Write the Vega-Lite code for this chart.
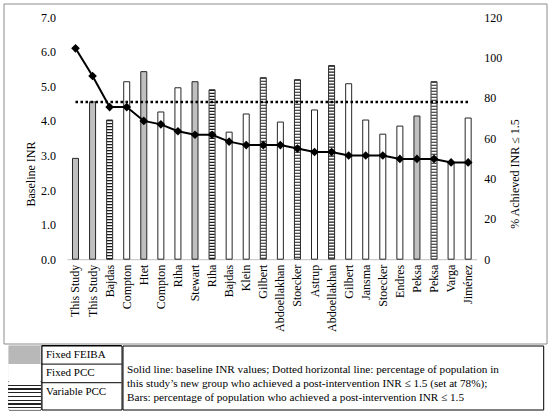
{
  "$schema": "https://vega.github.io/schema/vega-lite/v6.json",
  "background": "white",
  "padding": {"left": 2.5, "top": 2.5, "right": 3, "bottom": 3},
  "datasets": {
    "studies": [
      {"study": "This Study", "group": "Fixed FEIBA", "inr": 6.1, "pct": 50},
      {"study": " This Study", "group": "Fixed FEIBA", "inr": 5.3, "pct": 78},
      {"study": "Bajdas", "group": "Variable PCC", "inr": 4.4, "pct": 69},
      {"study": "Compton", "group": "Fixed PCC", "inr": 4.4, "pct": 88},
      {"study": "Htet", "group": "Fixed FEIBA", "inr": 4.0, "pct": 93},
      {"study": " Compton", "group": "Fixed PCC", "inr": 3.9, "pct": 73},
      {"study": "Riha", "group": "Fixed PCC", "inr": 3.7, "pct": 85},
      {"study": "Stewart", "group": "Fixed FEIBA", "inr": 3.6, "pct": 88},
      {"study": " Riha", "group": "Variable PCC", "inr": 3.6, "pct": 84},
      {"study": " Bajdas", "group": "Fixed PCC", "inr": 3.4, "pct": 63},
      {"study": "Klein", "group": "Fixed PCC", "inr": 3.3, "pct": 72},
      {"study": "Gilbert", "group": "Variable PCC", "inr": 3.3, "pct": 90},
      {"study": "Abdoellakhan", "group": "Fixed PCC", "inr": 3.3, "pct": 68},
      {"study": "Stoecker", "group": "Variable PCC", "inr": 3.2, "pct": 89},
      {"study": "Astrup", "group": "Fixed PCC", "inr": 3.1, "pct": 74},
      {"study": " Abdoellakhan", "group": "Variable PCC", "inr": 3.1, "pct": 96},
      {"study": " Gilbert", "group": "Fixed PCC", "inr": 3.0, "pct": 87},
      {"study": "Jansma", "group": "Fixed PCC", "inr": 3.0, "pct": 69},
      {"study": " Stoecker", "group": "Fixed PCC", "inr": 3.0, "pct": 62},
      {"study": "Endres", "group": "Fixed PCC", "inr": 2.9, "pct": 66},
      {"study": "Peksa", "group": "Fixed FEIBA", "inr": 2.9, "pct": 71},
      {"study": " Peksa", "group": "Variable PCC", "inr": 2.9, "pct": 88},
      {"study": "Varga", "group": "Fixed PCC", "inr": 2.8, "pct": 48},
      {"study": "Jiménez", "group": "Fixed PCC", "inr": 2.8, "pct": 70}
    ],
    "legend": [
      {"label": "Fixed FEIBA"},
      {"label": "Fixed PCC"},
      {"label": "Variable PCC"}
    ],
    "notes": [
      {"line": "Solid line: baseline INR values; Dotted horizontal line: percentage of population in"},
      {"line": "this study’s new group who achieved a post-intervention INR ≤ 1.5 (set at 78%);"},
      {"line": "Bars: percentage of population who achieved a post-intervention INR ≤ 1.5"}
    ]
  },
  "spacing": 0,
  "vconcat": [
    {
      "width": 543,
      "height": 340,
      "view": {"stroke": "#8c8c8c"},
      "data": {"name": "studies"},
      "encoding": {
        "x": {
          "field": "study",
          "type": "nominal",
          "sort": null,
          "scale": {"paddingInner": 0, "paddingOuter": 0, "range": [63.46, 473.2]},
          "axis": {"title": null, "labelAngle": -90, "labelExpr": "trim(datum.value)", "labelPadding": 5, "offset": -84.3, "domain": true, "domainColor": "#bfbfbf", "domainWidth": 1}
        }
      },
      "layer": [
        {
          "encoding": {
            "y": {
              "field": "pct",
              "type": "quantitative",
              "scale": {"domain": [-41.8, 126.79], "nice": false, "zero": false},
              "axis": {"orient": "right", "title": "% Achieved INR ≤ 1.5", "values": [0, 20, 40, 60, 80, 100, 120], "offset": -69.8, "labelPadding": 7, "titlePadding": 8, "titleAngle": -90, "titleBaseline": "top"}
            }
          },
          "layer": [
            {
              "mark": {"type": "bar", "width": 6, "strokeWidth": 0},
              "encoding": {
                "fill": {"condition": {"test": "datum.group === 'Fixed FEIBA'", "value": "#bfbfbf"}, "value": "white"}
              }
            },
            {
              "mark": {"type": "rule", "color": "#1a1a1a", "strokeWidth": 5.4, "strokeDash": [1.1, 1.9]},
              "encoding": {
                "y2": {"datum": 0},
                "strokeOpacity": {"condition": {"test": "datum.group === 'Variable PCC'", "value": 1}, "value": 0}
              }
            },
            {
              "mark": {"type": "bar", "width": 6, "fillOpacity": 0, "stroke": "#262626", "strokeWidth": 1}
            }
          ]
        },
        {
          "mark": {"type": "line", "color": "black", "strokeWidth": 2.5, "strokeDash": [2.5, 2.5]},
          "encoding": {
            "y": {"datum": 78, "type": "quantitative", "scale": {"domain": [-41.8, 126.79], "nice": false, "zero": false}, "axis": null}
          }
        },
        {
          "mark": {"type": "line", "color": "black", "strokeWidth": 2, "point": {"shape": "diamond", "filled": true, "size": 75, "color": "black"}},
          "encoding": {
            "y": {
              "field": "inr",
              "type": "quantitative",
              "scale": {"domain": [-2.4385, 7.3963], "nice": false, "zero": false},
              "axis": {"orient": "left", "title": "Baseline INR", "values": [0, 1, 2, 3, 4, 5, 6, 7], "format": ".1f", "offset": -63.46, "labelPadding": 11.5, "titlePadding": 3}
            }
          }
        }
      ],
      "resolve": {"scale": {"y": "independent"}}
    },
    {
      "spacing": -1,
      "hconcat": [
        {
          "width": 4.8,
          "height": 64,
          "view": {"stroke": null},
          "data": {"name": "legend"},
          "mark": {"type": "rect", "opacity": 0}
        },
        {
          "width": 32,
          "height": 64,
          "data": {"name": "legend"},
          "layer": [
            {
              "mark": {
                "type": "rect",
                "fill": {
                  "gradient": "linear", "x1": 0, "y1": 0, "x2": 0, "y2": 1,
                  "stops": [
                    {"offset": 0, "color": "#ffffff"},
                    {"offset": 0.5514, "color": "#ffffff"}, {"offset": 0.5514, "color": "#222222"}, {"offset": 0.5704, "color": "#222222"}, {"offset": 0.5704, "color": "#ffffff"},
                    {"offset": 0.6102, "color": "#ffffff"}, {"offset": 0.6102, "color": "#222222"}, {"offset": 0.6292, "color": "#222222"}, {"offset": 0.6292, "color": "#ffffff"},
                    {"offset": 0.6691, "color": "#ffffff"}, {"offset": 0.6691, "color": "#222222"}, {"offset": 0.6881, "color": "#222222"}, {"offset": 0.6881, "color": "#ffffff"},
                    {"offset": 0.7279, "color": "#ffffff"}, {"offset": 0.7279, "color": "#222222"}, {"offset": 0.7469, "color": "#222222"}, {"offset": 0.7469, "color": "#ffffff"},
                    {"offset": 0.7867, "color": "#ffffff"}, {"offset": 0.7867, "color": "#222222"}, {"offset": 0.8057, "color": "#222222"}, {"offset": 0.8057, "color": "#ffffff"},
                    {"offset": 0.8455, "color": "#ffffff"}, {"offset": 0.8455, "color": "#222222"}, {"offset": 0.8645, "color": "#222222"}, {"offset": 0.8645, "color": "#ffffff"},
                    {"offset": 0.9044, "color": "#ffffff"}, {"offset": 0.9044, "color": "#222222"}, {"offset": 0.9234, "color": "#222222"}, {"offset": 0.9234, "color": "#ffffff"},
                    {"offset": 0.9632, "color": "#ffffff"}, {"offset": 0.9632, "color": "#222222"}, {"offset": 0.9822, "color": "#222222"}, {"offset": 0.9822, "color": "#ffffff"},
                    {"offset": 1, "color": "#ffffff"}
                  ]
                }
              }
            },
            {
              "mark": {"type": "rect"},
              "encoding": {
                "y": {
                  "field": "label", "type": "nominal", "sort": null,
                  "scale": {"paddingInner": 0, "paddingOuter": 0.22, "align": 0},
                  "axis": null
                },
                "fill": {"condition": [{"test": "datum.label === 'Fixed FEIBA'", "value": "#b8b8b8"}, {"test": "datum.label === 'Fixed PCC'", "value": "white"}], "value": "transparent"}
              }
            }
          ]
        },
        {
          "width": 80,
          "height": 64,
          "data": {"name": "legend"},
          "mark": {"type": "rule", "color": "black", "strokeWidth": 1},
          "encoding": {
            "y": {
              "field": "label", "type": "nominal", "sort": null, "bandPosition": 0,
              "scale": {"paddingInner": 0, "paddingOuter": 0.22, "align": 0},
              "axis": {"title": null, "labelAlign": "left", "labelPadding": -4, "labelFontSize": 11, "labelLimit": 200, "zindex": 1}
            }
          }
        },
        {
          "width": 420.7,
          "height": 64,
          "data": {"name": "notes"},
          "mark": {"type": "rect", "fill": "transparent"},
          "encoding": {
            "y": {
              "field": "line", "type": "nominal", "sort": null,
              "scale": {"paddingInner": 0, "paddingOuter": 0.754, "align": 0.79},
              "axis": {"title": null, "labelAlign": "left", "labelPadding": -4, "labelFontSize": 11.2, "labelLimit": 430, "zindex": 1}
            }
          }
        }
      ]
    }
  ],
  "config": {
    "font": "Liberation Serif",
    "view": {"stroke": "black", "strokeWidth": 1},
    "axis": {
      "labelFont": "Liberation Serif", "titleFont": "Liberation Serif",
      "labelFontSize": 12, "titleFontSize": 12, "titleFontWeight": "normal",
      "labelColor": "black", "titleColor": "black",
      "grid": false, "ticks": false, "tickSize": 0, "domain": false
    }
  }
}
